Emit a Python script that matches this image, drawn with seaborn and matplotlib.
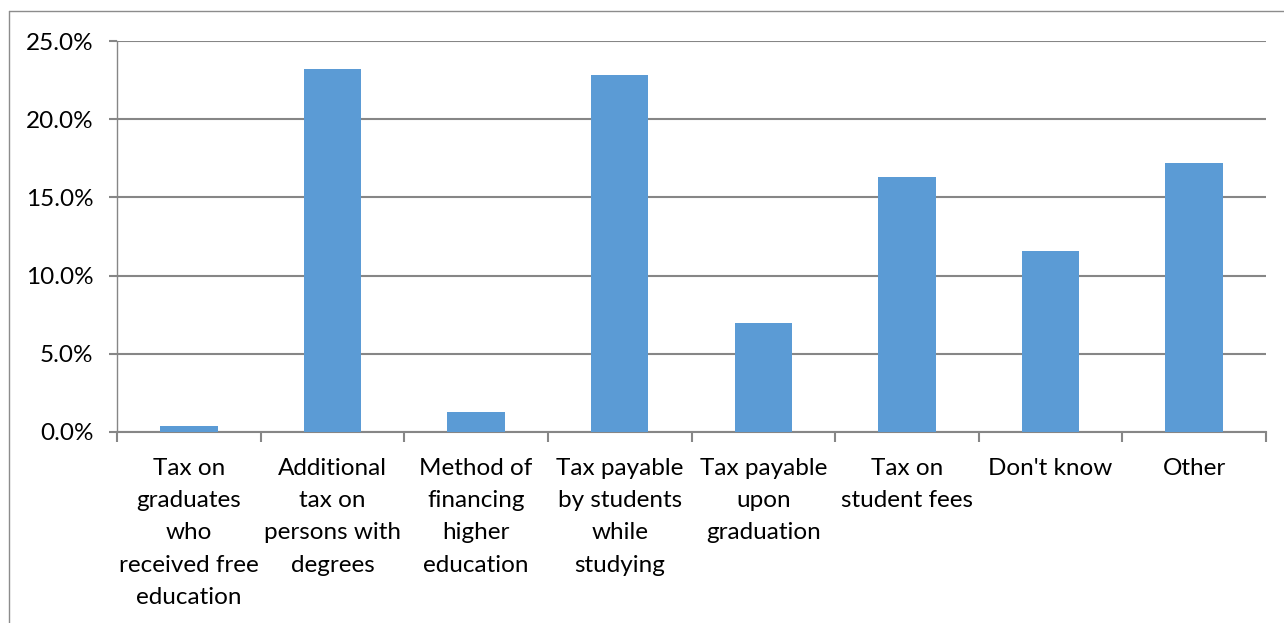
import matplotlib
matplotlib.use("Agg")
import matplotlib.pyplot as plt
from matplotlib.lines import Line2D
from matplotlib.ticker import PercentFormatter
import seaborn as sns
import pandas as pd

categories = [
    "Tax on\ngraduates\nwho\nreceived free\neducation",
    "Additional\ntax on\npersons with\ndegrees",
    "Method of\nfinancing\nhigher\neducation",
    "Tax payable\nby students\nwhile\nstudying",
    "Tax payable\nupon\ngraduation",
    "Tax on\nstudent fees",
    "Don't know",
    "Other",
]
shares = [0.4, 23.2, 1.3, 22.8, 7.0, 16.3, 11.6, 17.2]
y_ticks = [0, 5, 10, 15, 20, 25]

sns.set_theme(style="white")
plt.rcParams["font.family"] = ["Lato", "DejaVu Sans"]

df = pd.DataFrame({"category": categories, "share": shares})

fig = plt.figure(figsize=(12.84, 6.23), dpi=100)
ax = fig.add_axes([117 / 1284, 1 - 432 / 623, (1266 - 117) / 1284, (432 - 41) / 623])

sns.barplot(data=df, x="category", y="share", order=categories, color="#5B9BD5",
            width=0.40, saturation=1, linewidth=0, ax=ax, zorder=3)

grid_c = "#868686"
ax.set_ylim(0, 25)
ax.set_xlim(-0.5, len(categories) - 0.5)
ax.set_yticks(y_ticks)
ax.yaxis.set_major_formatter(PercentFormatter(decimals=1))
ax.yaxis.grid(True, color=grid_c, linewidth=1.5, zorder=0)
ax.set_axisbelow(True)

# category labels sit on minor ticks; major ticks mark category boundaries
ax.set_xticks([i - 0.5 for i in range(len(categories) + 1)])
ax.set_xticklabels([])
ax.set_xticks(range(len(categories)), minor=True)
ax.set_xticklabels(categories, minor=True, fontsize=17.5, color="#000000",
                   linespacing=1.65, va="top")
ax.tick_params(axis="x", which="minor", length=0, pad=19)
ax.tick_params(axis="x", which="major", direction="out", length=7, width=1.5,
               color=grid_c, bottom=True)
ax.tick_params(axis="y", direction="out", length=6, width=1.5, color=grid_c,
               labelsize=17.5, labelcolor="#000000", pad=11, left=True)

ax.set_xlabel("")
ax.set_ylabel("")
for side in ["top", "right"]:
    ax.spines[side].set_visible(False)
ax.spines["left"].set_color(grid_c)
ax.spines["left"].set_linewidth(1.0)
ax.spines["bottom"].set_color(grid_c)
ax.spines["bottom"].set_linewidth(1.5)

# outer chart frame (top and left edges)
fig.add_artist(Line2D([9 / 1284, 9 / 1284], [0, 1 - 11 / 623],
                      transform=fig.transFigure, color="#8c8c8c", linewidth=1.0))
fig.add_artist(Line2D([9 / 1284, 1], [1 - 11 / 623, 1 - 11 / 623],
                      transform=fig.transFigure, color="#8c8c8c", linewidth=1.0))

fig.savefig("out.png", dpi=100, facecolor="white")
